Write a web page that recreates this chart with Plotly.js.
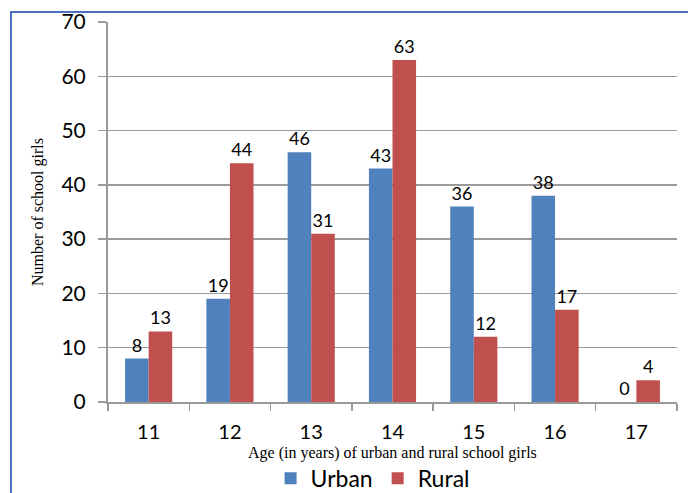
<!DOCTYPE html>
<html>
<head>
<meta charset="utf-8">
<script src="https://cdn.plot.ly/plotly-3.0.1.min.js"></script>
<style>
  html, body { margin: 0; padding: 0; background: #fff; }
  #wrap { position: relative; width: 688px; height: 493px; }
  #frame { position: absolute; left: 10px; top: 11px; right: 0; bottom: 0;
           border-left: 2px solid #4a72c0; border-top: 2px solid #4a72c0; pointer-events: none; z-index: 5; }
  #chart { position: absolute; left: 0; top: 0; width: 688px; height: 493px; }
</style>
</head>
<body>
<div id="wrap">
  <div id="chart"></div>
  <div id="frame"></div>
</div>
<script>
const ages = ["11", "12", "13", "14", "15", "16", "17"];
const urban = [8, 19, 46, 43, 36, 38, 0];
const rural = [13, 44, 31, 63, 12, 17, 4];
const seriesNames = ["Urban", "Rural"];
const yTicks = [0, 10, 20, 30, 40, 50, 60, 70];
const xTitle = "Age (in years) of urban and rural school girls";
const yTitle = "Number of school girls";

const labelFont = { family: "Lato, 'Open Sans', sans-serif", size: 18, color: "#000" };
const serifFont = { family: "'Liberation Serif', 'DejaVu Serif', serif", size: 16, color: "#000" };

const traces = [
  { type: "bar", x: ages, y: urban, name: seriesNames[0],
    marker: { color: "#4f81bd" },
    text: urban.map(String), textposition: "outside", textfont: labelFont, cliponaxis: false },
  { type: "bar", x: ages, y: rural, name: seriesNames[1],
    marker: { color: "#c0504d" },
    text: rural.map(String), textposition: "outside", textfont: labelFont, cliponaxis: false }
];

const layout = {
  width: 688, height: 493,
  margin: { l: 108, r: 11, t: 22, b: 91 },
  paper_bgcolor: "#fff", plot_bgcolor: "#fff",
  barmode: "group", bargap: 0.42, bargroupgap: 0,
  font: { family: "Lato, 'Open Sans', sans-serif", color: "#000" },
  xaxis: {
    type: "category", automargin: false,
    tickson: "boundaries", ticks: "outside", ticklen: 7, tickwidth: 1.5, tickcolor: "#999",
    showline: true, linecolor: "#999", linewidth: 2,
    showgrid: false,
    tickfont: { family: "Lato, 'Open Sans', sans-serif", size: 20, color: "#000" },
    ticklabelstandoff: 11
  },
  yaxis: {
    range: [0, 70], tickvals: yTicks, ticktext: yTicks.map(String), automargin: false,
    ticks: "outside", ticklen: 8, tickwidth: 1.5, tickcolor: "#999",
    showline: true, linecolor: "#999", linewidth: 2,
    showgrid: true, gridcolor: "#9a9a9a", gridwidth: 1.5,
    zeroline: false,
    tickfont: { family: "Lato, 'Open Sans', sans-serif", size: 21, color: "#000" },
    ticklabelstandoff: 8,
    title: { text: yTitle, font: serifFont, standoff: 14 }
  },
  annotations: [
    { text: xTitle, xref: "paper", yref: "paper", x: 0.5, y: -0.133,
      xanchor: "center", yanchor: "middle", showarrow: false, font: serifFont }
  ],
  legend: {
    orientation: "h", x: 0.465, xanchor: "center",
    yref: "container", y: 0.03, yanchor: "middle",
    font: { family: "Lato, 'Open Sans', sans-serif", size: 23, color: "#000" },
    itemwidth: 30, tracegroupgap: 0
  },
  showlegend: true
};

Plotly.newPlot("chart", traces, layout, { displayModeBar: false, staticPlot: true });
</script>
</body>
</html>
